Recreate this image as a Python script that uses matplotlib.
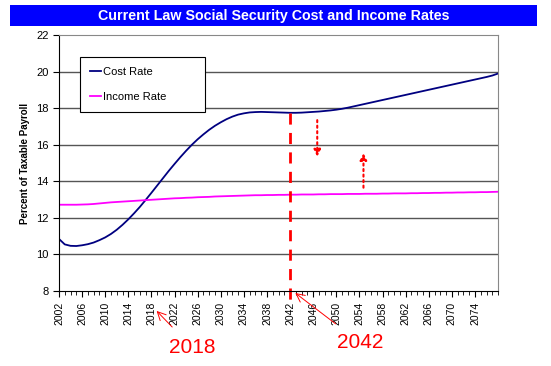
import matplotlib
matplotlib.use("Agg")
import matplotlib.pyplot as plt
from matplotlib.patches import Rectangle

plt.rcParams["font.family"] = ["Liberation Sans", "DejaVu Sans"]

years = list(range(2002, 2079))
cost_rate = [
    10.85, 10.55, 10.47, 10.46, 10.50, 10.56, 10.65, 10.78, 10.93, 11.12,
    11.35, 11.62, 11.92, 12.25, 12.60, 12.98, 13.37, 13.77, 14.17, 14.57,
    14.95, 15.32, 15.67, 16.00, 16.30, 16.57, 16.82, 17.04, 17.23, 17.40,
    17.54, 17.65, 17.72, 17.77, 17.79, 17.80, 17.79, 17.78, 17.77, 17.76,
    17.75, 17.75, 17.76, 17.78, 17.80, 17.82, 17.85, 17.88, 17.92, 17.97,
    18.03, 18.10, 18.17, 18.24, 18.31, 18.38, 18.45, 18.52, 18.59, 18.66,
    18.73, 18.80, 18.87, 18.94, 19.01, 19.08, 19.15, 19.22, 19.29, 19.36,
    19.43, 19.50, 19.57, 19.64, 19.71, 19.79, 19.90,
]
income_rate = [
    12.72, 12.72, 12.72, 12.72, 12.73, 12.74, 12.76, 12.79, 12.82, 12.85,
    12.87, 12.89, 12.91, 12.93, 12.95, 12.97, 12.99, 13.01, 13.03, 13.05,
    13.07, 13.08, 13.10, 13.11, 13.13, 13.14, 13.15, 13.17, 13.18, 13.19,
    13.20, 13.21, 13.22, 13.23, 13.24, 13.24, 13.25, 13.25, 13.26, 13.26,
    13.27, 13.27, 13.28, 13.28, 13.28, 13.29, 13.29, 13.30, 13.30, 13.30,
    13.31, 13.31, 13.31, 13.32, 13.32, 13.32, 13.33, 13.33, 13.34, 13.34,
    13.34, 13.35, 13.35, 13.36, 13.36, 13.37, 13.37, 13.38, 13.38, 13.39,
    13.39, 13.40, 13.40, 13.41, 13.41, 13.42, 13.43,
]
tick_years = list(range(2002, 2075, 4))
title = "Current Law Social Security Cost and Income Rates"

fig = plt.figure(figsize=(5.51, 3.66), dpi=100)
ax = fig.add_axes([0.107, 0.205, 0.797, 0.699])

# blue title bar
fig.patches.append(Rectangle((0.018, 0.929), 0.957, 0.057, transform=fig.transFigure,
                             facecolor="#0000FF", edgecolor="none"))
fig.text(0.496, 0.957, title, color="white", fontsize=10.3, fontweight="bold",
         ha="center", va="center")

ax.plot(years, cost_rate, color="#000080", lw=1.3, label="Cost Rate")
ax.plot(years, income_rate, color="#FF00FF", lw=1.3, label="Income Rate")

ax.set_xlim(2002, 2078)
ax.set_ylim(8, 22)
ax.set_yticks(range(8, 23, 2))
ax.set_xticks(tick_years)
ax.set_xticks(years, minor=True)
ax.tick_params(axis="x", which="major", labelrotation=90, labelsize=7.5, length=4)
ax.tick_params(axis="x", which="minor", length=3)
ax.tick_params(axis="y", labelsize=8, length=4)
for y in range(10, 22, 2):
    ax.axhline(y, color="#555555", lw=1, zorder=0)
for side in ["top", "right"]:
    ax.spines[side].set_color("#888888")
ax.set_ylabel("Percent of Taxable Payroll", fontsize=7, fontweight="bold")

leg = ax.legend(loc="upper left", bbox_to_anchor=(0.048, 0.707, 0.285, 0.207),
                mode="expand", fancybox=False,
                edgecolor="black", framealpha=1, fontsize=8, handlelength=1.0,
                handletextpad=0.2, labelspacing=1.3, borderpad=0.9, borderaxespad=0)
leg.get_frame().set_linewidth(0.8)

# 2042 marker and arrows
ax.plot([2042, 2042], [17.75, 7.45], color="red", lw=2, ls=(0, (4, 3)), clip_on=False)
ax.annotate("", xy=(2046.7, 15.2), xytext=(2046.7, 17.5),
            arrowprops=dict(arrowstyle="-|>", color="red", lw=1.5, ls=":",
                            mutation_scale=10))
ax.annotate("", xy=(2054.7, 15.7), xytext=(2054.7, 13.5),
            arrowprops=dict(arrowstyle="-|>", color="red", lw=1.5, ls=":",
                            mutation_scale=10))

trans = ax.get_xaxis_transform()
ax.annotate("2018", xy=(2018.9, -0.078), xycoords=trans,
            xytext=(2025.0, -0.22), textcoords=trans, color="red", fontsize=15,
            ha="center", va="center",
            arrowprops=dict(arrowstyle="->", color="red", lw=0.7, shrinkA=8, shrinkB=0))
ax.annotate("2042", xy=(2042.9, -0.008), xycoords=trans,
            xytext=(2054.2, -0.203), textcoords=trans, color="red", fontsize=15,
            ha="center", va="center",
            arrowprops=dict(arrowstyle="->", color="red", lw=0.7, shrinkA=8, shrinkB=0))

fig.savefig("out.png", dpi=100)
